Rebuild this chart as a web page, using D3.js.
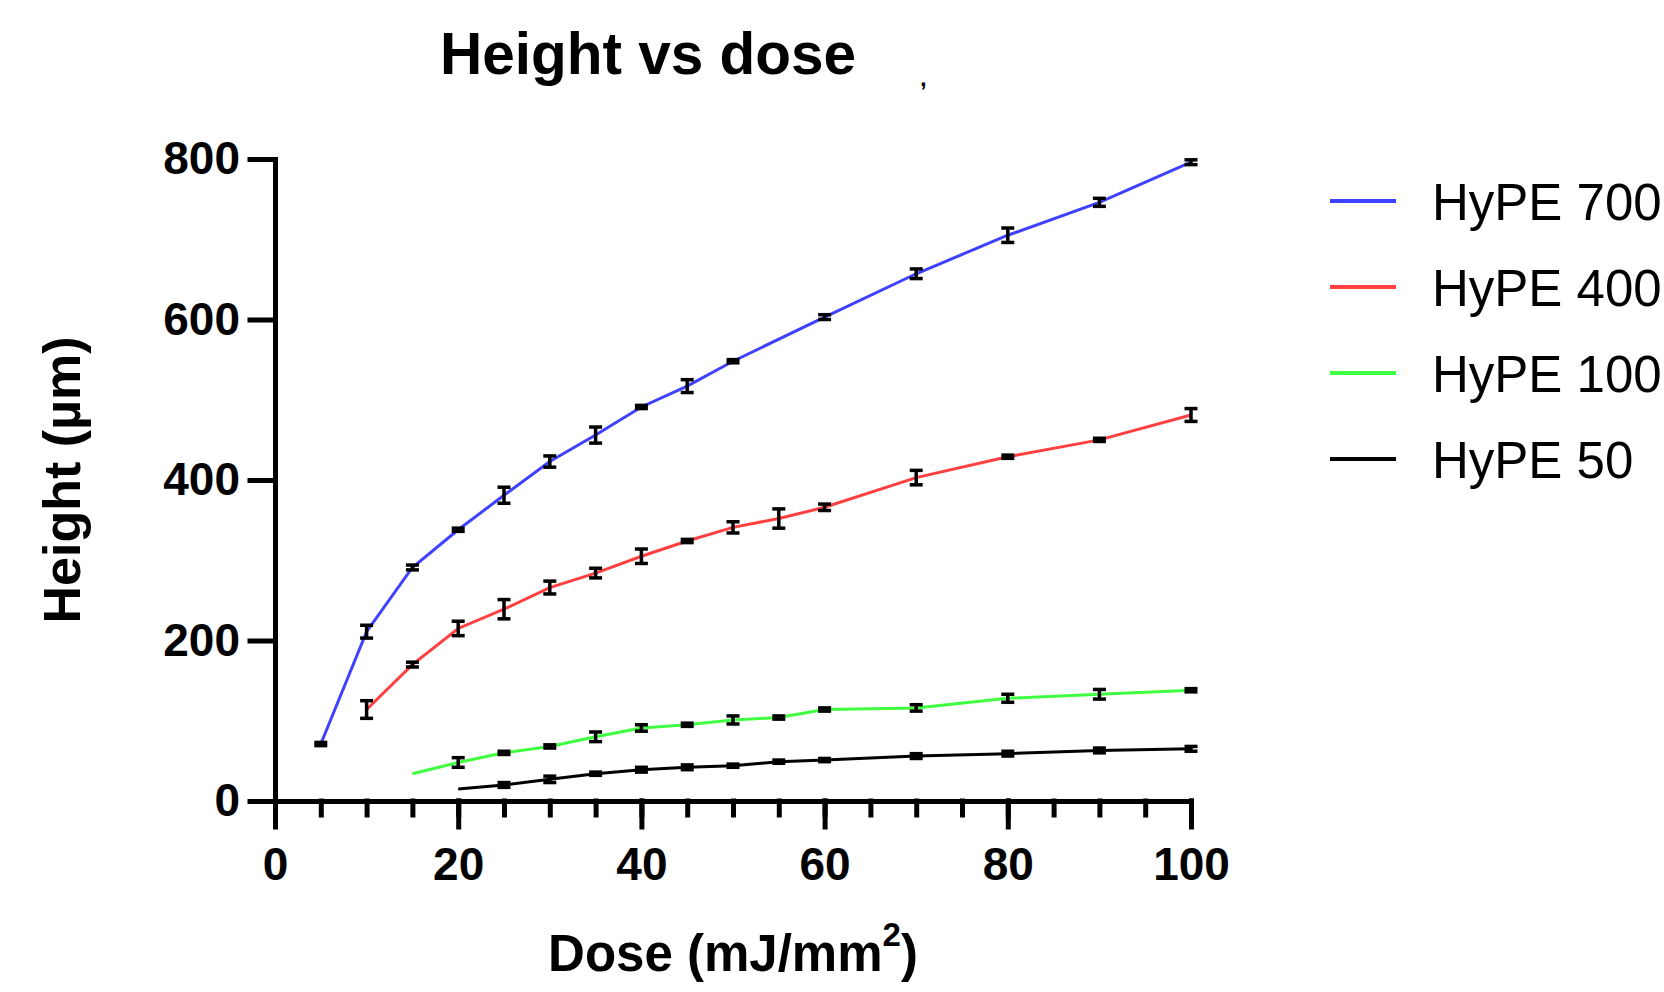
<!DOCTYPE html>
<html>
<head>
<meta charset="utf-8">
<script src="https://cdn.jsdelivr.net/npm/d3@7"></script>
<style>
  html, body { margin: 0; padding: 0; background: #fff; }
  svg { display: block; font-family: "Liberation Sans", Arial, sans-serif; }
</style>
</head>
<body>
<div id="d3-container"></div>
<script>
/**
 * CONSTANTS AND GLOBALS
 * */
const width = 1664,
  height = 992,
  margin = { top: 159, bottom: 191, left: 275, right: 473 };

// x axis ticks
const majorTicks = [0, 20, 40, 60, 80, 100];
const minorTicks = d3.range(0, 101, 5);
const yTicks = [0, 200, 400, 600, 800];

// HyPE 700
const dose700 = [5, 10, 15, 20, 25, 30, 35, 40, 45, 50, 60, 70, 80, 90, 100];
const height700 = [71, 211, 291, 338, 381, 423, 456, 491, 517, 548, 603, 657, 705, 746, 796];
const err700 = [2, 8, 3, 2, 10, 7, 10, 2, 8, 2, 3, 6, 9, 5, 3];

// HyPE 400
const dose400 = [10, 15, 20, 25, 30, 35, 40, 45, 50, 55, 60, 70, 80, 90, 100];
const height400 = [114, 170, 215, 239, 266, 284, 305, 324, 341, 352, 366, 403, 429, 450, 481];
const err400 = [11, 3, 9, 12, 8, 6, 9, 2, 7, 12, 4, 9, 2, 2, 8];

// HyPE 100
const dose100 = [15, 20, 25, 30, 35, 40, 45, 50, 55, 60, 70, 80, 90, 100];
const height100 = [34, 48, 60, 68, 80, 91, 95, 101, 104, 114, 116, 128, 133, 138];
const err100 = [0, 6, 2, 2, 6, 4, 2, 5, 2, 2, 4, 5, 6, 2];

// HyPE 50
const dose50 = [20, 25, 30, 35, 40, 45, 50, 55, 60, 70, 80, 90, 100];
const height50 = [15, 20, 27, 34, 39, 42, 44, 49, 51, 56, 59, 63, 65];
const err50 = [0, 3, 4, 2, 3, 3, 2, 2, 2, 3, 3, 3, 3];

const seriesNames = ["HyPE 700", "HyPE 400", "HyPE 100", "HyPE 50"];
const seriesColors = ["#4040ff", "#ff4040", "#40ff40", "#000000"];

// build one table per series from the arrays above
const series = [
  [dose700, height700, err700],
  [dose400, height400, err400],
  [dose100, height100, err100],
  [dose50, height50, err50],
].map(([xs, ys, es], i) => ({
  name: seriesNames[i],
  color: seriesColors[i],
  points: xs.map((x, j) => ({ dose: x, height: ys[j], err: es[j] })),
}));

let svg, xScale, yScale;

init();

function init() {
  svg = d3
    .select("#d3-container")
    .append("svg")
    .attr("width", width)
    .attr("height", height);

  // SCALES
  xScale = d3.scaleLinear().domain([0, 100]).range([margin.left, width - margin.right]);
  yScale = d3.scaleLinear().domain([0, 800]).range([height - margin.bottom, margin.top]);

  // minor x ticks (no labels)
  svg
    .append("g")
    .attr("class", "axis x-minor")
    .attr("transform", `translate(0,${height - margin.bottom})`)
    .call(d3.axisBottom(xScale).tickValues(minorTicks).tickSize(14).tickSizeOuter(0).tickFormat(""))
    .call(g => g.select(".domain").remove());

  // AXES
  const xAxis = d3.axisBottom(xScale).tickValues(majorTicks).tickSize(26).tickSizeOuter(0).tickPadding(20);
  const yAxis = d3.axisLeft(yScale).tickValues(yTicks).tickSize(25).tickSizeOuter(0).tickPadding(10);

  svg
    .append("g")
    .attr("class", "axis x-axis")
    .attr("transform", `translate(0,${height - margin.bottom})`)
    .call(xAxis);

  svg
    .append("g")
    .attr("class", "axis y-axis")
    .attr("transform", `translate(${margin.left},0)`)
    .call(yAxis);

  svg.selectAll(".axis path, .axis line")
    .attr("stroke", "#000")
    .attr("stroke-width", 5)
    .attr("stroke-linecap", "square");
  svg.selectAll(".axis text")
    .attr("fill", "#000")
    .attr("font-size", 46)
    .attr("font-weight", "bold");

  // axis labels
  svg
    .append("text")
    .attr("x", (margin.left + width - margin.right) / 2)
    .attr("y", 971)
    .attr("text-anchor", "middle")
    .attr("font-size", 51)
    .attr("font-weight", "bold")
    .text("Dose (mJ/mm")
    .call(t => t.append("tspan").attr("font-size", 33).attr("dy", -25).text("2"))
    .call(t => t.append("tspan").attr("dy", 25).text(")"));

  svg
    .append("text")
    .attr("transform", `translate(80,${(margin.top + height - margin.bottom) / 2}) rotate(-90)`)
    .attr("text-anchor", "middle")
    .attr("font-size", 52)
    .attr("font-weight", "bold")
    .text("Height (µm)");

  // title
  svg
    .append("text")
    .attr("x", 648)
    .attr("y", 74)
    .attr("text-anchor", "middle")
    .attr("font-size", 58.5)
    .attr("font-weight", "bold")
    .text("Height vs dose");

  // stray mark from the original export
  svg
    .append("text")
    .attr("x", 920)
    .attr("y", 86)
    .attr("font-size", 24)
    .attr("font-weight", "bold")
    .text(",");

  draw();
}

function draw() {
  const line = d3
    .line()
    .x(d => xScale(d.dose))
    .y(d => yScale(d.height));

  const seriesG = svg
    .selectAll(".series")
    .data(series)
    .join("g")
    .attr("class", "series");

  seriesG
    .append("path")
    .attr("fill", "none")
    .attr("stroke", d => d.color)
    .attr("stroke-width", 3)
    .attr("d", d => line(d.points));

  // error bars
  const capHalf = 6.5;
  const bars = seriesG
    .selectAll(".err")
    .data(d => d.points.filter(p => p.err > 0))
    .join("g")
    .attr("class", "err")
    .attr("stroke", "#000")
    .attr("stroke-width", 3.5);

  bars
    .append("line")
    .attr("x1", d => xScale(d.dose))
    .attr("x2", d => xScale(d.dose))
    .attr("y1", d => yScale(d.height - d.err))
    .attr("y2", d => yScale(d.height + d.err));
  bars
    .append("line")
    .attr("x1", d => xScale(d.dose) - capHalf)
    .attr("x2", d => xScale(d.dose) + capHalf)
    .attr("y1", d => yScale(d.height + d.err))
    .attr("y2", d => yScale(d.height + d.err));
  bars
    .append("line")
    .attr("x1", d => xScale(d.dose) - capHalf)
    .attr("x2", d => xScale(d.dose) + capHalf)
    .attr("y1", d => yScale(d.height - d.err))
    .attr("y2", d => yScale(d.height - d.err));

  // LEGEND
  const legend = svg
    .selectAll(".legend")
    .data(series)
    .join("g")
    .attr("class", "legend")
    .attr("transform", (d, i) => `translate(1330,${201 + i * 86})`);

  legend
    .append("line")
    .attr("x1", 0)
    .attr("x2", 66)
    .attr("stroke", d => d.color)
    .attr("stroke-width", 4);

  legend
    .append("text")
    .attr("x", 102)
    .attr("y", 19)
    .attr("font-size", 51)
    .attr("fill", "#000")
    .text(d => d.name);
}
</script>
</body>
</html>
